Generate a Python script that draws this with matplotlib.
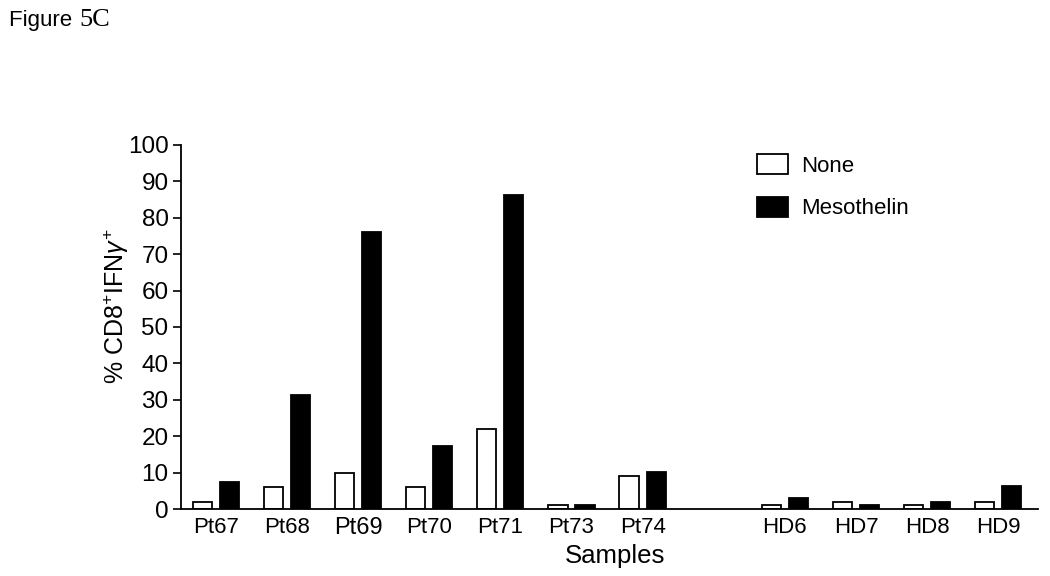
import numpy as np
import matplotlib
matplotlib.use('Agg')
import matplotlib.pyplot as plt

plt.rcParams['font.family'] = ['Liberation Sans', 'DejaVu Sans']
plt.rcParams['mathtext.fontset'] = 'custom'
plt.rcParams['mathtext.rm'] = 'Liberation Sans'
plt.rcParams['mathtext.it'] = 'Liberation Sans:italic'

samples = ['Pt67', 'Pt68', 'Pt69', 'Pt70', 'Pt71', 'Pt73', 'Pt74',
           'HD6', 'HD7', 'HD8', 'HD9']
none_vals = [2, 6, 10, 6, 22, 1, 9, 1, 2, 1, 2]
meso_vals = [7.3, 31.3, 76.2, 17.3, 86.2, 1.2, 10.3, 3, 1.2, 2, 6.3]
# gap of one slot between patients and healthy donors
xpos = np.array([0, 1, 2, 3, 4, 5, 6, 8, 9, 10, 11])

fig = plt.figure(figsize=(10.5, 5.76), dpi=100)
ax = fig.add_axes([0.1724, 0.1163, 0.8162, 0.632])

w = 0.27
ax.bar(xpos - 0.19, none_vals, w, color='white', edgecolor='black', lw=1.3, label='None')
ax.bar(xpos + 0.19, meso_vals, w, color='black', edgecolor='black', lw=1.3, label='Mesothelin')

ax.set_xlim(-0.49, 11.56)
ax.set_ylim(0, 100)
ax.set_yticks(np.arange(0, 101, 10))
ax.tick_params(axis='y', labelsize=17.5, length=6, width=1.2, pad=3)
ax.set_xticks(xpos)
ax.set_xticklabels(samples)
ax.tick_params(axis='x', length=0, labelsize=16, pad=6)
ax.get_xticklabels()[2].set_fontsize(17)
for s in ['top', 'right']:
    ax.spines[s].set_visible(False)
for s in ['left', 'bottom']:
    ax.spines[s].set_linewidth(1.3)

ax.set_ylabel('% CD8$^{+}$IFN$\\gamma^{+}$', fontsize=18)
ax.yaxis.set_label_coords(-0.058, 0.558)
fig.text(0.586, 0.035, 'Samples', fontsize=18.5, ha='center', va='center')

ax.legend(loc='upper left', bbox_to_anchor=(0.702, 0.767), bbox_transform=fig.transFigure,
          frameon=False, fontsize=16, handlelength=1.4, handleheight=1.0,
          labelspacing=0.9, handletextpad=0.6)

fig.text(0.009, 0.965, 'Figure ', fontsize=16, ha='left', va='center')
fig.text(0.076, 0.965, '5C', fontsize=19, ha='left', va='center', family='Liberation Serif')

fig.savefig('out.png', dpi=100)
